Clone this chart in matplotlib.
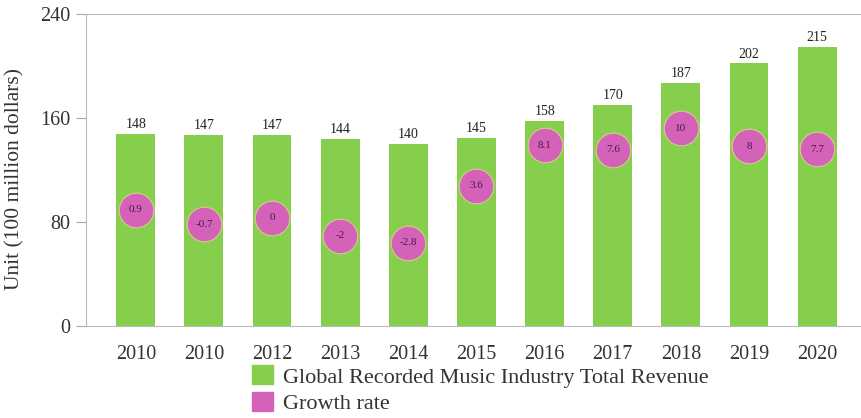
import matplotlib.pyplot as plt
from matplotlib.patches import Patch
import numpy as np

# revenue (100 million dollars) and growth rate (%) per year
years = ["2010", "2010", "2012", "2013", "2014", "2015", "2016", "2017", "2018", "2019", "2020"]
revenue = [148, 147, 147, 144, 140, 145, 158, 170, 187, 202, 215]
growth = [0.9, -0.7, 0, -2, -2.8, 3.6, 8.1, 7.6, 10, 8, 7.7]
growth_text = ["0.9", "-0.7", "0", "-2", "-2.8", "3.6", "8.1", "7.6", "10", "8", "7.7"]

green = "#86cf4c"
pink = "#d462b8"
txt = "#333333"
plt.rcParams["font.family"] = ["Liberation Serif", "DejaVu Serif"]

fig = plt.figure(figsize=(8.62, 4.18), dpi=100)
ax = fig.add_axes([0.0998, 0.22, 0.898, 0.7465])
x = np.arange(len(years))

bars = ax.bar(x, revenue, width=0.57, color=green, zorder=2)
for xi, v in zip(x, revenue):
    ax.text(xi, v + 2, str(v), ha="center", va="bottom", fontsize=10, color="#222222")

ax.set_ylim(0, 240)
ax.set_xlim(-0.73, 10.63)
ax.set_yticks([0, 80, 160, 240])
ax.set_xticks(x)
ax.set_xticklabels(years)
ax.tick_params(axis="x", length=0, pad=14, labelsize=14.5, labelcolor=txt)
ax.tick_params(axis="y", length=7, color="#aaaaaa", pad=4, labelsize=14.5, labelcolor=txt)
for s in ["left", "top", "bottom"]:
    ax.spines[s].set_color("#bbbbbb")
ax.spines["right"].set_visible(False)
ax.set_ylabel("Unit (100 million dollars)", fontsize=15.5, color=txt)
ax.yaxis.set_label_coords(-0.079, 0.47)

# growth rate bubbles on a hidden second scale
ax2 = ax.twinx()
ax2.set_ylim(-12.1, 22.8)
ax2.axis("off")
ax2.scatter(x, growth, s=620, color=pink, edgecolors="#d8c890", linewidths=0.8, zorder=3)
for xi, g, t in zip(x, growth, growth_text):
    ax2.text(xi, g, t, ha="center", va="center", fontsize=8, color="#4a1850", zorder=4)

handles = [Patch(color=green, label="Global Recorded Music Industry Total Revenue"),
           Patch(color=pink, label="Growth rate")]
fig.legend(handles=handles, loc="upper left", bbox_to_anchor=(0.292, 0.126), frameon=False,
           fontsize=16, handlelength=0.95, handleheight=0.95, handletextpad=0.45,
           labelspacing=0.2, borderaxespad=0, borderpad=0, labelcolor=txt)

fig.savefig("out.png", dpi=100)
